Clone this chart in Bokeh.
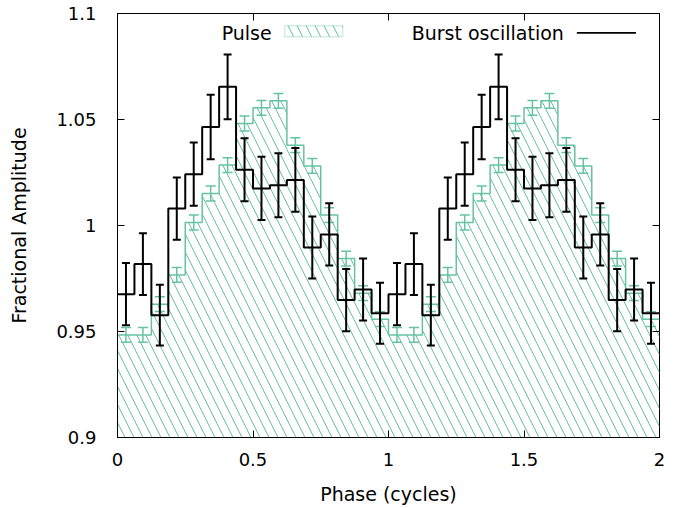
import numpy as np
from bokeh.plotting import figure
from bokeh.models import LinearAxis, FixedTicker, Range1d, BoxAnnotation, Label
from bokeh.embed import file_html
from bokeh.resources import INLINE

# ---- data (one cycle, 16 phase bins; the picture shows it twice) ----
n_bins = 16
n_cycles = 2
pulse = [0.9484, 0.9484, 0.9629, 0.9767, 1.0014, 1.0151, 1.0285, 1.0481,
         1.0555, 1.0588, 1.0379, 1.0281, 1.0049, 0.9844, 0.9681, 0.9558]
pulse_err = [0.0035, 0.0035, 0.0035, 0.0035, 0.0035, 0.0035, 0.0035, 0.0035,
             0.0035, 0.0035, 0.0035, 0.0035, 0.0035, 0.0035, 0.0035, 0.0035]
burst = [0.9676, 0.9818, 0.9577, 1.0080, 1.0242, 1.0465, 1.0654, 1.0263,
         1.0175, 1.0190, 1.0215, 0.9896, 0.9958, 0.9648, 0.9698, 0.9586]
burst_err = [0.0147, 0.0146, 0.0143, 0.0147, 0.0149, 0.0152, 0.0153, 0.0149,
             0.0149, 0.0151, 0.0150, 0.0146, 0.0147, 0.0147, 0.0146, 0.0144]

x_ticks = [0, 0.5, 1, 1.5, 2]
x_tick_labels = ["0", "0.5", "1", "1.5", "2"]
y_ticks = [0.9, 0.95, 1.0, 1.05, 1.1]
y_tick_labels = ["0.9", "0.95", "1", "1.05", "1.1"]

GREEN = "#66c2a5"
FONT = "DejaVu Sans"
FS_TICK = "18px"
FS = "19px"

# ---- derived arrays ----
edges = np.linspace(0, n_cycles, n_cycles * n_bins + 1)
centers = 0.5 * (edges[:-1] + edges[1:])
p_vals = np.tile(pulse, n_cycles)
p_errs = np.tile(pulse_err, n_cycles)
b_vals = np.tile(burst, n_cycles)
b_errs = np.tile(burst_err, n_cycles)
p_step = np.append(p_vals, p_vals[-1])
b_step = np.append(b_vals, b_vals[-1])

p = figure(frame_width=542, frame_height=424,
           x_range=Range1d(0, 2), y_range=Range1d(0.9, 1.1),
           output_backend="svg", toolbar_location=None,
           min_border_left=117, min_border_right=27,
           min_border_top=13, min_border_bottom=70)
p.grid.visible = False
p.background_fill_color = "white"
p.border_fill_color = "white"
p.outline_line_color = "black"
p.outline_line_width = 1

# pulse: hatched area + outline + error bars
p.varea_step(x=edges, y1=np.full(len(edges), 0.9), y2=p_step, step_mode="after",
             fill_color=None, hatch_pattern="\\", hatch_color=GREEN,
             hatch_scale=18, hatch_weight=1)
p.step(edges, p_step, mode="after", line_color=GREEN, line_width=1.5)
p.segment(centers, p_vals - p_errs, centers, p_vals + p_errs,
          line_color=GREEN, line_width=1.5)
p.scatter(centers, p_vals - p_errs, marker="dash", size=10, line_color=GREEN, line_width=1.5)
p.scatter(centers, p_vals + p_errs, marker="dash", size=10, line_color=GREEN, line_width=1.5)

# burst oscillation: step + error bars
p.step(edges, b_step, mode="after", line_color="black", line_width=2)
p.segment(centers, b_vals - b_errs, centers, b_vals + b_errs,
          line_color="black", line_width=2)
p.scatter(centers, b_vals - b_errs, marker="dash", size=8, line_color="black", line_width=2)
p.scatter(centers, b_vals + b_errs, marker="dash", size=8, line_color="black", line_width=2)

# axes
def style_axis(ax):
    ax.axis_line_color = "black"
    ax.axis_line_width = 1
    ax.major_tick_in = 7
    ax.major_tick_out = 0
    ax.major_tick_line_color = "black"
    ax.major_tick_line_width = 1
    ax.minor_tick_line_color = None
    ax.major_label_text_font = FONT
    ax.major_label_text_font_size = FS_TICK
    ax.major_label_text_color = "black"
    ax.axis_label_text_font = FONT
    ax.axis_label_text_font_size = FS
    ax.axis_label_text_font_style = "normal"
    ax.axis_label_text_color = "black"

xax = p.xaxis[0]
xax.ticker = FixedTicker(ticks=x_ticks)
xax.major_label_overrides = dict(zip(x_ticks, x_tick_labels))
xax.axis_label = "Phase (cycles)"
style_axis(xax)
xax.major_label_standoff = 15
xax.axis_label_standoff = 14

yax = p.yaxis[0]
yax.ticker = FixedTicker(ticks=y_ticks)
yax.major_label_overrides = dict(zip(y_ticks, y_tick_labels))
yax.axis_label = "Fractional Amplitude"
style_axis(yax)
yax.major_label_standoff = 21
yax.axis_label_standoff = 23

top = LinearAxis(ticker=FixedTicker(ticks=x_ticks))
style_axis(top)
top.major_label_overrides = {t: "" for t in x_ticks}
top.major_label_standoff = 0
top.axis_line_color = None
p.add_layout(top, "above")

right = LinearAxis(ticker=FixedTicker(ticks=y_ticks))
style_axis(right)
right.major_label_overrides = {t: "" for t in y_ticks}
right.major_label_standoff = 0
right.axis_line_color = None
p.add_layout(right, "right")

# key (gnuplot style: text then sample)
p.add_layout(Label(x=0.569, y=1.0909, text="Pulse", text_align="right",
                   text_baseline="middle", text_font=FONT, text_font_size=FS,
                   text_color="black"))
p.add_layout(BoxAnnotation(left=0.617, right=0.831, bottom=1.0890, top=1.0942,
                           fill_color=None, line_color=GREEN, line_width=1.5,
                           hatch_pattern="\\", hatch_color=GREEN, hatch_scale=18,
                           hatch_weight=1))
p.add_layout(Label(x=1.647, y=1.0909, text="Burst oscillation", text_align="right",
                   text_baseline="middle", text_font=FONT, text_font_size=FS,
                   text_color="black"))
p.add_layout(BoxAnnotation(left=1.695, right=1.913, bottom=1.0904, top=1.0913,
                           fill_color="black", fill_alpha=1, line_color=None))

open("out.html", "w").write(file_html(p, INLINE))
